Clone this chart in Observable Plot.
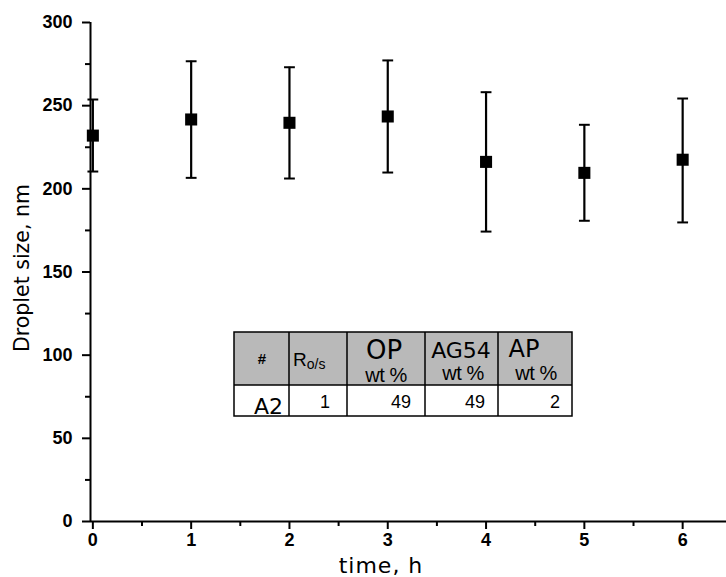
<!DOCTYPE html>
<html><head><meta charset="utf-8">
<script src="https://cdn.jsdelivr.net/npm/d3@7"></script>
<script src="https://cdn.jsdelivr.net/npm/@observablehq/plot@0.6"></script>
<style>
body{margin:0;background:#fff;}
#wrap{position:relative;width:726px;height:577px;overflow:hidden;background:#fff;}
#wrap > svg{position:absolute;left:0;top:0;}
#wrap g[aria-label$="tick label"]{font-size:18px !important;font-weight:bold !important;font-family:'Liberation Sans',Arial,sans-serif !important;}
.ylab{position:absolute;left:22px;top:268px;transform:translate(-50%,-50%) rotate(-90deg);font-family:'DejaVu Sans',sans-serif;font-size:20.5px;white-space:nowrap;color:#000;}
.xlab{position:absolute;left:381px;top:573px;transform:translate(-50%,-82%);font-family:'DejaVu Sans',sans-serif;font-size:22px;letter-spacing:1px;white-space:nowrap;color:#000;}
</style></head><body><div id="wrap"></div>
<script>
const times = [0, 1, 2, 3, 4, 5, 6];
const sizes = [232, 241.7, 239.7, 243.5, 216.2, 209.6, 217.5];
const errLow = [210.4, 206.6, 206.2, 209.8, 174.3, 180.8, 179.8];
const errHigh = [253.7, 276.7, 273.1, 277.2, 258.1, 238.5, 254.3];
const yTicks = [0, 50, 100, 150, 200, 250, 300];
const yMinor = [25, 75, 125, 175, 225, 275];
const xTicks = [0, 1, 2, 3, 4, 5, 6];
const xMinor = [0.5, 1.5, 2.5, 3.5, 4.5, 5.5];
const yLabel = "Droplet size, nm";
const xLabel = "time, h";
const tableHead = ["#", "R", "OP", "AG54", "AP"];
const tableHeadSub = ["", "o/s", "wt %", "wt %", "wt %"];
const tableRow = ["A2", "1", "49", "49", "2"];

const data = times.map((t, i) => ({t, size: sizes[i], lo: errLow[i], hi: errHigh[i]}));
const xDomain = [-0.024, 6.446];
const capHalf = 0.055;
const fmt = d => String(d);

const chart = Plot.plot({
  width: 726, height: 577,
  marginLeft: 90, marginRight: 0, marginTop: 22, marginBottom: 56,
  style: {fontFamily: "'Liberation Sans', Arial, sans-serif", fontSize: "18px", background: "#fff", color: "#000", overflow: "visible"},
  x: {domain: xDomain, label: null},
  y: {domain: [0, 300], label: null},
  marks: [
    Plot.axisY({ticks: yTicks, tickSize: 8, tickPadding: 10, strokeWidth: 2, fontWeight: "bold", fontSize: 18, tickFormat: fmt, label: null}),
    Plot.axisY({ticks: yMinor, tickSize: 5, strokeWidth: 2, tickFormat: () => "", label: null}),
    Plot.axisX({ticks: xTicks, tickSize: 8, tickPadding: 4, strokeWidth: 2, fontWeight: "bold", fontSize: 18, tickFormat: fmt, label: null}),
    Plot.axisX({ticks: xMinor, tickSize: 5, strokeWidth: 2, tickFormat: () => "", label: null}),
    Plot.ruleX([xDomain[0]], {y1: 0, y2: 300, strokeWidth: 2}),
    Plot.ruleY([0], {strokeWidth: 2}),
    Plot.ruleX(data, {x: "t", y1: "lo", y2: "hi", strokeWidth: 2.2}),
    Plot.link(data, {x1: d => d.t - capHalf, x2: d => d.t + capHalf, y1: "hi", y2: "hi", strokeWidth: 2}),
    Plot.link(data, {x1: d => d.t - capHalf, x2: d => d.t + capHalf, y1: "lo", y2: "lo", strokeWidth: 2}),
    Plot.dot(data, {x: "t", y: "size", symbol: "square", r: 6.8, fill: "#000", stroke: null})
  ]
});
const wrap = document.getElementById("wrap");
wrap.appendChild(chart);

const yl = document.createElement("div"); yl.className = "ylab"; yl.textContent = yLabel; wrap.appendChild(yl);
const xl = document.createElement("div"); xl.className = "xlab"; xl.textContent = xLabel; wrap.appendChild(xl);

// inset table
const ns = "http://www.w3.org/2000/svg";
const cols = [234, 289, 347, 425, 498, 572];
const rTop = 332, rMid = 385, rBot = 416;
const tsvg = document.createElementNS(ns, "svg");
tsvg.setAttribute("width", 726); tsvg.setAttribute("height", 577);
function el(tag, attrs, text) {
  const e = document.createElementNS(ns, tag);
  for (const k in attrs) e.setAttribute(k, attrs[k]);
  if (text != null) e.textContent = text;
  tsvg.appendChild(e);
  return e;
}
el("rect", {x: cols[0], y: rTop, width: cols[5] - cols[0], height: rMid - rTop, fill: "#b9b9b9"});
el("rect", {x: cols[0], y: rMid, width: cols[5] - cols[0], height: rBot - rMid, fill: "#fff"});
el("line", {x1: cols[0], x2: cols[5], y1: rMid, y2: rMid, stroke: "#000", "stroke-width": 1.5});
for (let i = 1; i < 5; i++) el("line", {x1: cols[i], x2: cols[i], y1: rTop, y2: rBot, stroke: "#000", "stroke-width": 1.5});
el("rect", {x: cols[0], y: rTop, width: cols[5] - cols[0], height: rBot - rTop, fill: "none", stroke: "#000", "stroke-width": 1.5});

const sans = "'Liberation Sans', Arial, sans-serif", dj = "'DejaVu Sans', sans-serif";
// header
el("text", {x: 262, y: 364, "text-anchor": "middle", "font-family": sans, "font-size": 15, "font-weight": "bold"}, tableHead[0]);
const r = el("text", {x: 293, y: 366, "font-family": sans, "font-size": 19});
r.textContent = tableHead[1];
const sub = document.createElementNS(ns, "tspan"); sub.setAttribute("font-size", 14); sub.setAttribute("dy", 3); sub.textContent = tableHeadSub[1]; r.appendChild(sub);
el("text", {x: 384, y: 359, "text-anchor": "middle", "font-family": dj, "font-size": 26}, tableHead[2]);
el("text", {x: 386, y: 382, "text-anchor": "middle", "font-family": sans, "font-size": 20, "letter-spacing": -0.5}, tableHeadSub[2]);
el("text", {x: 461, y: 358, "text-anchor": "middle", "font-family": dj, "font-size": 22}, tableHead[3]);
el("text", {x: 463, y: 380, "text-anchor": "middle", "font-family": sans, "font-size": 20, "letter-spacing": -0.5}, tableHeadSub[3]);
el("text", {x: 524, y: 357, "text-anchor": "middle", "font-family": dj, "font-size": 24}, tableHead[4]);
el("text", {x: 536, y: 380, "text-anchor": "middle", "font-family": sans, "font-size": 20, "letter-spacing": -0.5}, tableHeadSub[4]);
// row
el("text", {x: 254, y: 414, "font-family": dj, "font-size": 22}, tableRow[0]);
const rightEdges = [330, 411, 485, 560];
for (let i = 1; i < 5; i++) el("text", {x: rightEdges[i - 1], y: 408, "text-anchor": "end", "font-family": sans, "font-size": 18}, tableRow[i]);
tsvg.style.position = "absolute"; tsvg.style.left = "0"; tsvg.style.top = "0";
wrap.appendChild(tsvg);
</script></body></html>
